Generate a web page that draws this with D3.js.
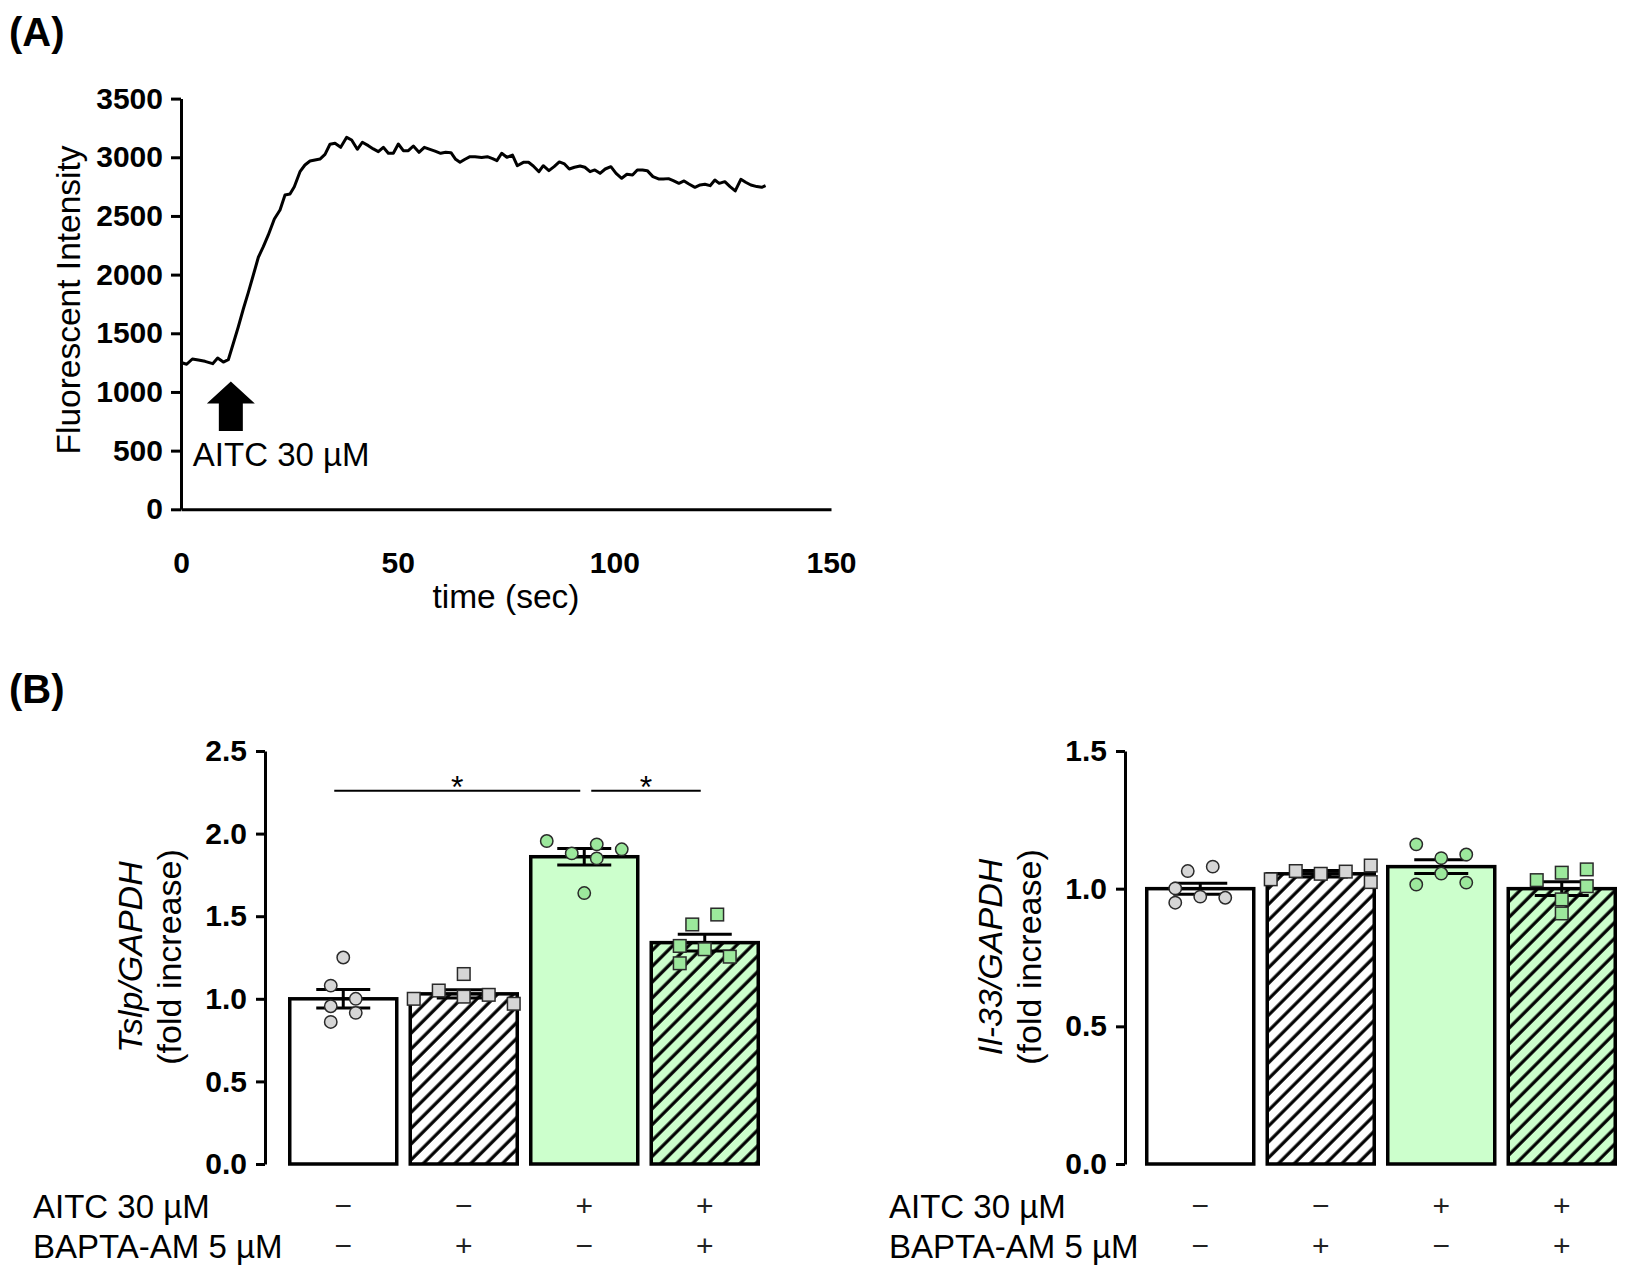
<!DOCTYPE html>
<html><head><meta charset="utf-8">
<script src="https://cdn.jsdelivr.net/npm/d3@7"></script>
<style>
body{margin:0;background:#fff}
svg{display:block}
text{font-family:"Liberation Sans",Arial,Helvetica,sans-serif}
</style>
</head><body>
<svg id="chart" width="1632" height="1280"></svg>
<script>
// ---------- DATA ----------
// Panel A: fluorescence trace
const timeSec = [0.2,1.31,2.62,4.0,5.54,7.31,8.46,9.77,10.92,12.08,13.23,14.38,15.54,16.69,17.85,19.0,20.15,21.54,22.85,24.0,
  25.15,26.15,27.46,28.6,29.77,30.92,32.07,33.23,34.38,35.54,36.85,38.23,39.38,40.69,41.85,43.23,44.38,45.54,46.69,47.85,
  49.0,50.15,51.31,52.46,53.62,54.92,56.15,57.46,58.62,59.92,61.08,62.31,63.38,64.38,65.54,66.69,67.85,69.38,70.69,71.9,
  72.9,74.0,75.2,76.5,77.6,79.0,80.2,81.3,82.6,83.6,84.9,86.1,87.3,88.5,89.6,90.8,92.1,93.2,94.4,95.5,
  96.7,97.9,99.2,100.4,101.7,102.9,104.2,105.3,106.5,107.6,108.9,110.2,111.3,112.5,113.6,114.9,116.1,117.2,118.6,119.8,
  120.9,122.1,123.2,124.2,125.5,126.7,127.9,129.2,130.3,131.5,132.9,134.0,134.9];
const fluorescence = [1249,1236,1281,1272,1261,1241,1289,1255,1275,1415,1556,1707,1849,1997,2148,2238,2338,2474,2551,2679,
  2687,2749,2877,2934,2968,2977,2985,3025,3111,3119,3085,3170,3147,3068,3128,3099,3071,3048,3085,3034,
  3034,3113,3056,3056,3096,3042,3085,3068,3053,3034,3042,3039,2983,2957,2983,3005,3005,2999,3005,2988,
  2971,3034,3000,3019,2928,2957,2957,2926,2877,2928,2886,2920,2960,2943,2900,2915,2926,2915,2877,2892,
  2863,2900,2920,2863,2821,2855,2849,2892,2892,2886,2835,2815,2815,2818,2801,2778,2798,2772,2744,2764,
  2770,2758,2806,2778,2792,2750,2713,2812,2787,2764,2750,2744,2758];
const fluorTicks = [0,500,1000,1500,2000,2500,3000,3500];
const timeTicks = [0,50,100,150];
const arrowTime = 11.5, arrowTip = 1090, arrowBottom = 668;
const arrowLabel = "AITC 30 µM";

// Panel B: groups
const groups = ["ctrl","bapta","aitc","aitc_bapta"];
const aitcSigns  = ["−","−","+","+"];
const baptaSigns = ["−","+","−","+"];
const rowLabels = ["AITC 30 µM","BAPTA-AM 5 µM"];

const tslpMean = [1.00,1.03,1.86,1.34];
const tslpSem  = [0.056,0.025,0.05,0.05];
const tslpPoints = [
  [1.25,1.08,1.00,0.955,0.915,0.86],
  [1.15,1.05,1.00,1.013,1.024,0.97],
  [1.955,1.88,1.935,1.85,1.905,1.64],
  [1.51,1.45,1.32,1.30,1.255,1.215]];
const tslpLanes = [[0,-1,1,-1,1,-1],[0,-2,-4,0,2,4],[-3,-1,1,1,3,0],[1,-1,-2,0,2,-2]];
const tslpTicks = [0,0.5,1.0,1.5,2.0,2.5];
const tslpSig = [[0,2],[2,3]];
const tslpSigLevel = 2.26;

const il33Mean = [1.00,1.054,1.08,1.00];
const il33Sem  = [0.02,0.012,0.025,0.025];
const il33Points = [
  [1.064,1.08,1.001,0.971,0.967,0.949],
  [1.034,1.064,1.054,1.062,1.084,1.024],
  [1.161,1.111,1.124,1.055,1.015,1.022],
  [1.031,1.058,1.070,1.009,0.961,0.910]];
const il33Lanes = [[-1,1,-2,0,2,-2],[-4,-2,0,2,4,4],[-2,0,2,0,-2,2],[-2,0,2,2,0,0]];
const il33Ticks = [0,0.5,1.0,1.5];

// ---------- STYLE ----------
const FONT = '"Liberation Sans",Arial,Helvetica,sans-serif';
const barFill = ["#ffffff","url(#hatchWhite)","#ccffcc","url(#hatchGreen)"];
const ptFill = ["#d6d6d6","#d6d6d6","#9ce89c","#9ce89c"];
const ptShape = ["circle","square","circle","square"];

const svg = d3.select("#chart");
const defs = svg.append("defs");
function hatch(id, bg){
  const w = 11.2;
  const p = defs.append("pattern").attr("id",id).attr("patternUnits","userSpaceOnUse")
    .attr("width",w).attr("height",w).attr("patternTransform","rotate(45)");
  p.append("rect").attr("width",w).attr("height",w).attr("fill",bg);
  p.append("line").attr("x1",2).attr("x2",2).attr("y1",-1).attr("y2",w+1)
    .attr("stroke","#000").attr("stroke-width",3.2);
}
hatch("hatchWhite","#ffffff");
hatch("hatchGreen","#ccffcc");

function styleTicks(g, size){
  g.selectAll("text").attr("font-family",FONT).attr("font-size",size)
    .attr("font-weight","bold").attr("fill","#000");
  g.selectAll("path,line").attr("stroke","#000").attr("stroke-width",3);
}

// ---------- PANEL A ----------
const xA = d3.scaleLinear().domain([0,150]).range([181,831]);
const yA = d3.scaleLinear().domain([0,3500]).range([509.3,98.6]);

svg.append("text").attr("x",9).attr("y",46).attr("font-size",40).attr("font-weight","bold")
  .attr("font-family",FONT).text("(A)");

const gAy = svg.append("g").attr("transform",`translate(${xA(0)},0)`)
  .call(d3.axisLeft(yA).tickValues(fluorTicks).tickFormat(d3.format("d")).tickSize(10).tickSizeOuter(0).tickPadding(8));
styleTicks(gAy,30);
const gAx = svg.append("g").attr("transform",`translate(0,${yA(0)})`)
  .call(d3.axisBottom(xA).tickValues(timeTicks).tickSize(0).tickSizeOuter(0).tickPadding(42));
styleTicks(gAx,30);

svg.append("path").datum(timeSec.map((t,i)=>[t,fluorescence[i]]))
  .attr("d", d3.line().x(d=>xA(d[0])).y(d=>yA(d[1])))
  .attr("fill","none").attr("stroke","#000").attr("stroke-width",3).attr("stroke-linejoin","round");

// arrow
{
  const xc = xA(arrowTime), yt = yA(arrowTip), yb = yA(arrowBottom), yh = yt + 22;
  const pts = [[xc,yt],[xc+24,yh],[xc+12,yh],[xc+12,yb],[xc-12,yb],[xc-12,yh],[xc-24,yh]];
  svg.append("polygon").attr("points",pts.map(p=>p.join(",")).join(" ")).attr("fill","#000");
  svg.append("text").attr("x",xc-38).attr("y",yb+35).attr("font-size",33).attr("font-family",FONT)
    .text(arrowLabel);
}

svg.append("text").attr("transform",`translate(80,${(yA(0)+yA(3500))/2 - 4}) rotate(-90)`)
  .attr("text-anchor","middle").attr("font-size",33.5).attr("font-family",FONT).text("Fluorescent Intensity");
svg.append("text").attr("x",(xA(0)+xA(150))/2).attr("y",608).attr("text-anchor","middle")
  .attr("font-size",33.5).attr("font-family",FONT).text("time (sec)");

// ---------- PANEL B ----------
svg.append("text").attr("x",9).attr("y",703).attr("font-size",40).attr("font-weight","bold")
  .attr("font-family",FONT).text("(B)");

function barPanel(o){
  const y = d3.scaleLinear().domain([0,o.max]).range([1164,751]);
  const x = d3.scaleBand().domain(groups).range(o.xr).paddingInner(0.112).paddingOuter(0.056);
  const lane = d3.scaleLinear().domain([0,1]).range([0,12.5]);
  const cx = i => x(groups[i]) + x.bandwidth()/2;

  const gy = svg.append("g").attr("transform",`translate(${o.axisX},0)`)
    .call(d3.axisLeft(y).tickValues(o.ticks).tickFormat(d3.format(".1f")).tickSize(9).tickSizeOuter(0).tickPadding(9));
  styleTicks(gy,30);

  // bars
  svg.append("g").selectAll("rect").data(o.mean).join("rect")
    .attr("x",(d,i)=>x(groups[i])).attr("width",x.bandwidth())
    .attr("y",d=>y(d)).attr("height",d=>y(0)-y(d))
    .attr("fill",(d,i)=>barFill[i]).attr("stroke","#000").attr("stroke-width",3.5);

  // error bars
  const ge = svg.append("g").attr("stroke","#000").attr("stroke-width",3);
  o.mean.forEach((m,i)=>{
    const s = o.sem[i], c = cx(i);
    ge.append("line").attr("x1",c).attr("x2",c).attr("y1",y(m-s)).attr("y2",y(m+s));
    ge.append("line").attr("x1",c-27).attr("x2",c+27).attr("y1",y(m+s)).attr("y2",y(m+s));
    ge.append("line").attr("x1",c-27).attr("x2",c+27).attr("y1",y(m-s)).attr("y2",y(m-s));
  });

  // points
  const gp = svg.append("g");
  o.points.forEach((arr,i)=>{
    arr.forEach((v,j)=>{
      const px = cx(i) + lane(o.lanes[i][j]), py = y(v);
      if(ptShape[i]==="circle"){
        gp.append("circle").attr("cx",px).attr("cy",py).attr("r",6.2)
          .attr("fill",ptFill[i]).attr("stroke","#2a2a2a").attr("stroke-width",1.5);
      } else {
        gp.append("rect").attr("x",px-6.3).attr("y",py-6.3).attr("width",12.6).attr("height",12.6)
          .attr("fill",ptFill[i]).attr("stroke","#2a2a2a").attr("stroke-width",1.5);
      }
    });
  });

  // significance
  if(o.sig){
    const ends = new Set();
    o.sig.forEach(([a,b])=>{
      const x1 = cx(a) + (ends.has(a) ? 7 : -9), x2 = cx(b) - 4, yy = y(o.sigLevel);
      ends.add(b);
      svg.append("line").attr("x1",x1).attr("x2",x2).attr("y1",yy).attr("y2",yy)
        .attr("stroke","#000").attr("stroke-width",2);
      svg.append("text").attr("x",(x1+x2)/2).attr("y",yy+7).attr("text-anchor","middle")
        .attr("font-size",32).attr("font-family",FONT).text("*");
    });
  }

  // y title
  const tg = svg.append("text").attr("transform",`translate(${o.axisX-123},957) rotate(-90)`)
    .attr("text-anchor","middle").attr("font-size",34).attr("font-family",FONT);
  tg.append("tspan").attr("font-style","italic").text(o.title);
  svg.append("text").attr("transform",`translate(${o.axisX-84},957) rotate(-90)`)
    .attr("text-anchor","middle").attr("font-size",34).attr("font-family",FONT).text("(fold increase)");

  // condition rows
  [aitcSigns, baptaSigns].forEach((signs,r)=>{
    const yy = 1218 + r*40;
    svg.append("text").attr("x",o.labelX).attr("y",yy).attr("font-size",33).attr("font-family",FONT).text(rowLabels[r]);
    signs.forEach((s,i)=>{
      svg.append("text").attr("x",cx(i)).attr("y",yy-2).attr("text-anchor","middle")
        .attr("font-size",30).attr("font-family",FONT).attr("fill","#222").text(s);
    });
  });
}

barPanel({max:2.5, xr:[283,765], axisX:265, ticks:tslpTicks, mean:tslpMean, sem:tslpSem,
  points:tslpPoints, lanes:tslpLanes, sig:tslpSig, sigLevel:tslpSigLevel, title:"Tslp/GAPDH", labelX:33});
barPanel({max:1.5, xr:[1140,1622], axisX:1125, ticks:il33Ticks, mean:il33Mean, sem:il33Sem,
  points:il33Points, lanes:il33Lanes, sig:null, title:"Il-33/GAPDH", labelX:889});
</script>
</body></html>
